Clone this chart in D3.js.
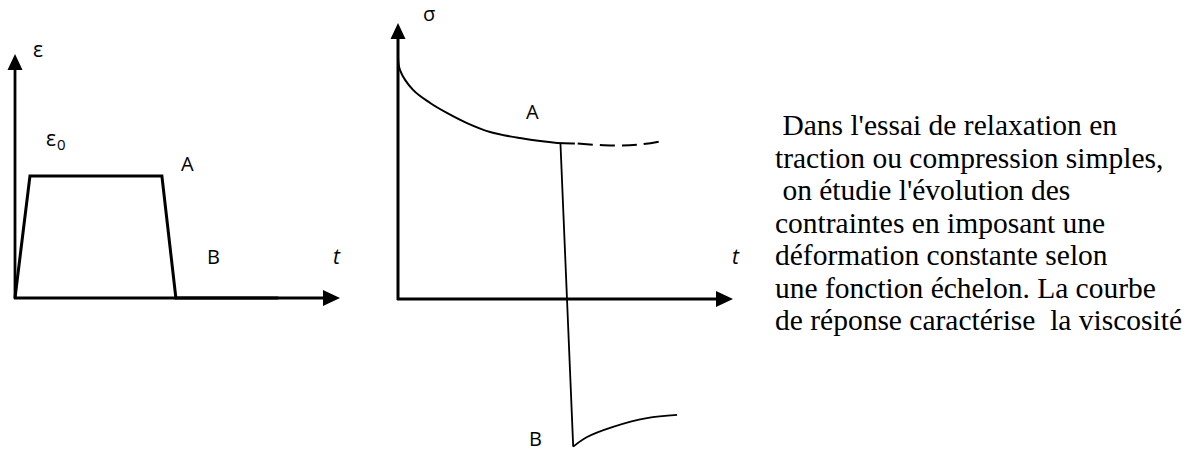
<!DOCTYPE html>
<html>
<head>
<meta charset="utf-8">
<script src="https://cdn.jsdelivr.net/npm/d3@7/dist/d3.min.js"></script>
<style>
  html, body { margin: 0; padding: 0; background: #fff; }
  svg { display: block; }
</style>
</head>
<body>
<svg id="chart" width="1187" height="451"></svg>
<script>
// ---- Data ----
// Left chart: imposed strain ε(t), step function
const strainT = [0, 4.6, 45.2, 49.5, 81];
const strainV = [0, 1, 1, 0, 0];

// Right chart: stress response σ(t)
const relaxT = [0, 0.6, 4.5, 9.6, 14.6, 20.6, 27.5, 36.4, 47.5, 52.8];
const relaxV = [1.0, 0.946, 0.864, 0.81, 0.769, 0.727, 0.69, 0.665, 0.645, 0.643];
const dashT = [52.8, 64.2, 72, 78.2];
const dashV = [0.643, 0.634, 0.638, 0.651];
const dropT = [48.5, 52.3];
const dropV = [0.641, -0.61];
const recovT = [52.3, 56.3, 64.2, 74.3, 83.3];
const recovV = [-0.61, -0.571, -0.528, -0.492, -0.479];

const textLines = [
  " Dans l'essai de relaxation en",
  "traction ou compression simples,",
  " on étudie l'évolution des",
  "contraintes en imposant une",
  "déformation constante selon",
  "une fonction échelon. La courbe",
  "de réponse caractérise  la viscosité"
];

// ---- Drawing ----
const svg = d3.select("#chart");
const sans = "'Open Sans', 'Noto Sans', sans-serif";

// Left chart scales
const xL = d3.scaleLinear().domain([0, 100]).range([15, 340]);
const yL = d3.scaleLinear().domain([0, 2]).range([298, 54]);

// Right chart scales
const xR = d3.scaleLinear().domain([0, 100]).range([398, 733]);
const yR = d3.scaleLinear().domain([0, 1]).range([299, 57]);

function arrowAxes(g, x, y, xMax, yMax, w) {
  g.append("line").attr("x1", x(0)).attr("y1", y(0) + 1)
    .attr("x2", x(0)).attr("y2", y(yMax) + 15)
    .attr("stroke", "#000").attr("stroke-width", w);
  g.append("path")
    .attr("d", `M${x(0)},${y(yMax)} L${x(0) - 7.5},${y(yMax) + 16} L${x(0) + 7.5},${y(yMax) + 16} Z`)
    .attr("fill", "#000");
  g.append("line").attr("x1", x(0) - 1).attr("y1", y(0))
    .attr("x2", x(xMax) - 15).attr("y2", y(0))
    .attr("stroke", "#000").attr("stroke-width", w);
  g.append("path")
    .attr("d", `M${x(xMax)},${y(0)} L${x(xMax) - 17},${y(0) - 8} L${x(xMax) - 17},${y(0) + 8} Z`)
    .attr("fill", "#000");
}

function label(g, x, y, txt, size, italic) {
  const t = g.append("text").attr("x", x).attr("y", y)
    .attr("font-family", sans).attr("font-size", size).attr("fill", "#000").text(txt);
  if (italic) t.attr("font-style", "italic");
  return t;
}

// ----- Left chart -----
const gL = svg.append("g");
arrowAxes(gL, xL, yL, 100, 2.0, 2.8);

const lineL = d3.line().x((d, i) => xL(strainT[i])).y((d, i) => yL(strainV[i]));
gL.append("path")
  .attr("d", lineL(strainV))
  .attr("fill", "none").attr("stroke", "#000").attr("stroke-width", 3)
  .attr("stroke-linejoin", "miter");

label(gL, 33, 57, "ε", 21);
const e0 = label(gL, 46, 146, "", 21);
e0.append("tspan").text("ε");
e0.append("tspan").attr("font-size", 15).attr("dy", 4).attr("dx", 1).text("0");
label(gL, 181, 171, "A", 20);
label(gL, 207, 264, "B", 20);
label(gL, 333, 264, "t", 21, true);

// ----- Right chart -----
const gR = svg.append("g");
arrowAxes(gR, xR, yR, 100, 1.14, 3);

const curve = (T) => d3.line().curve(d3.curveCatmullRom.alpha(0.5))
  .x((d, i) => xR(T[i])).y(d => yR(d));

gR.append("path").attr("d", curve(relaxT)(relaxV))
  .attr("fill", "none").attr("stroke", "#000").attr("stroke-width", 2);
gR.append("path").attr("d", curve(dashT)(dashV))
  .attr("fill", "none").attr("stroke", "#000").attr("stroke-width", 2)
  .attr("stroke-dasharray", "15,7").attr("stroke-dashoffset", -3);
gR.append("path").attr("d", d3.line().x((d, i) => xR(dropT[i])).y(d => yR(d))(dropV))
  .attr("fill", "none").attr("stroke", "#000").attr("stroke-width", 1.8);
gR.append("path").attr("d", curve(recovT)(recovV))
  .attr("fill", "none").attr("stroke", "#000").attr("stroke-width", 1.8);

label(gR, 423, 21, "σ", 20);
label(gR, 526, 119, "A", 20);
label(gR, 529, 446, "B", 20);
label(gR, 732, 264, "t", 21, true);

// ----- Text block -----
const tb = svg.append("text")
  .attr("font-family", "'Liberation Serif', 'Times New Roman', serif")
  .attr("font-size", 29.5)
  .attr("fill", "#000")
  .attr("xml:space", "preserve")
  .style("white-space", "pre");
textLines.forEach((s, i) => {
  tb.append("tspan").attr("x", 775).attr("y", 135 + i * 32.5).text(s);
});
</script>
</body>
</html>
